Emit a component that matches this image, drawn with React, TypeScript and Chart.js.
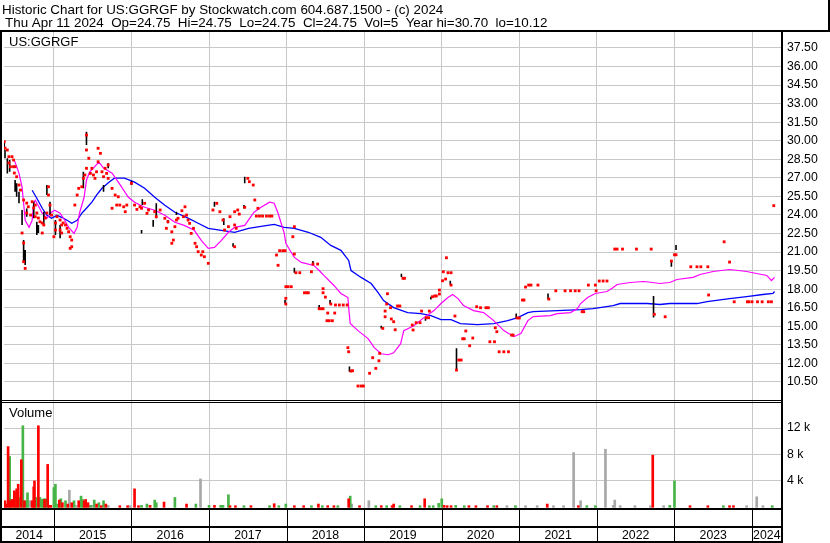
import React, { useEffect, useRef } from 'react';
import { Chart, registerables } from 'chart.js';
Chart.register(...registerables);

const FONT = '"Liberation Sans", Arial, sans-serif';

const headerLine1 = 'Historic Chart for US:GGRGF by Stockwatch.com 604.687.1500 - (c) 2024';
const headerLine2 = 'Thu Apr 11 2024  Op=24.75  Hi=24.75  Lo=24.75  Cl=24.75  Vol=5  Year hi=30.70  lo=10.12';
const symbolLabel = 'US:GGRGF';
const volumeLabel = 'Volume';

const X_MIN = 2014.357;
const X_MAX = 2024.386;
const yearBoundaries = [2015, 2016, 2017, 2018, 2019, 2020, 2021, 2022, 2023, 2024];
const yearLabels = ['2014', '2015', '2016', '2017', '2018', '2019', '2020', '2021', '2022', '2023', '2024'];
const yearLabelPos = [2014.68, 2015.5, 2016.5, 2017.5, 2018.5, 2019.5, 2020.5, 2021.5, 2022.5, 2023.5, 2024.19];

const priceTicks = [10.5, 12, 13.5, 15, 16.5, 18, 19.5, 21, 22.5, 24, 25.5, 27, 28.5, 30, 31.5, 33, 34.5, 36, 37.5];
const volumeTicks = [4000, 8000, 12000];

// long moving average (blue)
const blueYears = [2014.72, 2014.78, 2014.85, 2014.91, 2014.97, 2015.04, 2015.10, 2015.17, 2015.23, 2015.30, 2015.36, 2015.42, 2015.49, 2015.55, 2015.62, 2015.71, 2015.78, 2015.91, 2016.04, 2016.17, 2016.30, 2016.43, 2016.56, 2016.71, 2016.86, 2016.99, 2017.16, 2017.33, 2017.51, 2017.67, 2017.84, 2017.97, 2018.10, 2018.28, 2018.44, 2018.57, 2018.70, 2018.80, 2018.83, 2018.96, 2019.09, 2019.18, 2019.25, 2019.38, 2019.56, 2019.73, 2019.86, 2019.99, 2020.12, 2020.24, 2020.46, 2020.67, 2020.85, 2020.98, 2021.11, 2021.18, 2021.49, 2021.79, 2021.95, 2022.21, 2022.30, 2022.65, 2022.81, 2022.94, 2023.29, 2023.42, 2023.71, 2023.93, 2024.14, 2024.27, 2024.29];
const bluePrices = [26.0, 25.35, 24.54, 23.97, 23.73, 23.97, 23.81, 23.57, 23.33, 23.57, 24.14, 24.54, 25.03, 25.60, 26.16, 26.65, 26.97, 26.97, 26.65, 26.16, 25.43, 24.79, 24.22, 23.81, 23.33, 22.92, 22.76, 22.60, 22.92, 23.08, 23.24, 23.00, 22.92, 22.60, 22.19, 21.54, 21.14, 20.32, 19.51, 18.95, 18.46, 17.73, 17.08, 16.51, 16.11, 16.02, 15.86, 15.54, 15.54, 15.22, 15.13, 15.22, 15.46, 15.70, 16.11, 16.19, 16.27, 16.35, 16.43, 16.67, 16.84, 16.84, 16.76, 16.84, 16.84, 17.00, 17.24, 17.40, 17.57, 17.65, 17.81];

// short moving average (magenta)
const magentaYears = [2014.49, 2014.55, 2014.59, 2014.61, 2014.63, 2014.68, 2014.72, 2014.74, 2014.76, 2014.81, 2014.85, 2014.91, 2014.97, 2015.01, 2015.08, 2015.14, 2015.19, 2015.26, 2015.30, 2015.33, 2015.39, 2015.42, 2015.46, 2015.58, 2015.64, 2015.75, 2015.84, 2015.96, 2016.04, 2016.17, 2016.30, 2016.43, 2016.56, 2016.68, 2016.81, 2016.90, 2016.99, 2017.07, 2017.16, 2017.25, 2017.33, 2017.46, 2017.58, 2017.67, 2017.78, 2017.84, 2017.89, 2017.93, 2017.97, 2017.99, 2018.06, 2018.10, 2018.19, 2018.35, 2018.42, 2018.48, 2018.61, 2018.70, 2018.79, 2018.80, 2018.82, 2018.92, 2019.05, 2019.13, 2019.22, 2019.31, 2019.38, 2019.47, 2019.51, 2019.64, 2019.77, 2019.90, 2019.99, 2020.08, 2020.14, 2020.21, 2020.28, 2020.41, 2020.54, 2020.67, 2020.80, 2020.93, 2021.02, 2021.11, 2021.18, 2021.40, 2021.49, 2021.66, 2021.75, 2021.79, 2021.88, 2021.98, 2022.13, 2022.21, 2022.26, 2022.43, 2022.60, 2022.72, 2022.81, 2022.94, 2023.03, 2023.24, 2023.33, 2023.50, 2023.71, 2023.93, 2024.06, 2024.19, 2024.25, 2024.29];
const magentaPrices = [28.43, 27.38, 26.25, 24.95, 23.57, 23.00, 23.57, 24.95, 25.19, 24.62, 24.14, 23.73, 24.22, 24.38, 24.14, 23.57, 23.00, 22.51, 23.00, 24.14, 25.43, 26.81, 27.46, 28.27, 27.79, 27.38, 26.57, 25.43, 25.03, 24.62, 24.38, 23.97, 23.41, 23.16, 22.76, 21.95, 21.30, 21.38, 21.95, 22.60, 23.00, 23.16, 24.22, 24.62, 25.03, 24.95, 24.14, 23.33, 22.51, 21.70, 20.97, 20.57, 20.16, 19.92, 19.51, 19.11, 18.30, 17.65, 17.32, 16.51, 15.22, 14.65, 14.00, 13.27, 12.78, 12.70, 12.86, 13.59, 14.65, 15.05, 15.70, 16.27, 16.84, 17.32, 17.57, 17.24, 16.67, 16.27, 16.11, 15.46, 14.65, 14.16, 14.41, 15.46, 15.78, 15.86, 16.02, 16.11, 16.43, 16.84, 17.32, 17.65, 17.81, 18.14, 18.38, 18.54, 18.62, 18.54, 18.46, 18.54, 18.78, 18.95, 19.19, 19.43, 19.59, 19.43, 19.27, 19.11, 18.70, 18.95];

// daily closes (red marks)
const closeYears = [2014.36, 2014.37, 2014.40, 2014.42, 2014.46, 2014.48, 2014.42, 2014.44, 2014.48, 2014.50, 2014.49, 2014.52, 2014.55, 2014.57, 2014.61, 2014.65, 2014.67, 2014.65, 2014.70, 2014.72, 2014.74, 2014.76, 2014.78, 2014.76, 2014.80, 2014.82, 2014.85, 2014.87, 2014.85, 2014.59, 2014.61, 2014.61, 2014.63, 2014.89, 2014.93, 2014.93, 2014.95, 2014.91, 2014.97, 2015.02, 2015.04, 2015.08, 2015.10, 2015.12, 2015.15, 2015.17, 2015.19, 2015.21, 2015.23, 2015.23, 2015.21, 2015.02, 2015.00, 2015.08, 2015.10, 2015.27, 2015.30, 2015.32, 2015.36, 2015.38, 2015.40, 2015.42, 2015.45, 2015.42, 2015.42, 2015.47, 2015.49, 2015.51, 2015.53, 2015.55, 2015.57, 2015.57, 2015.60, 2015.62, 2015.64, 2015.66, 2015.68, 2015.70, 2015.70, 2015.75, 2015.79, 2015.83, 2015.81, 2015.85, 2015.90, 2015.94, 2015.92, 2015.75, 2016.00, 2016.04, 2016.07, 2016.11, 2016.13, 2016.17, 2016.22, 2016.20, 2016.30, 2016.32, 2016.37, 2016.43, 2016.47, 2016.45, 2016.52, 2016.56, 2016.58, 2016.60, 2016.67, 2016.65, 2016.69, 2016.71, 2016.73, 2016.75, 2016.77, 2016.80, 2016.82, 2016.84, 2016.86, 2016.90, 2016.92, 2016.94, 2016.99, 2016.54, 2016.52, 2017.05, 2017.10, 2017.14, 2017.18, 2017.20, 2017.25, 2017.27, 2017.33, 2017.35, 2017.37, 2017.39, 2017.46, 2017.50, 2017.52, 2017.57, 2017.59, 2017.61, 2017.65, 2017.63, 2017.33, 2017.33, 2017.69, 2017.74, 2017.78, 2017.81, 2018.10, 2018.08, 2017.91, 2017.95, 2017.98, 2017.87, 2018.10, 2017.89, 2018.12, 2018.17, 2018.32, 2018.34, 2018.40, 2017.99, 2018.02, 2018.06, 2017.99, 2017.99, 2018.23, 2018.26, 2018.28, 2018.47, 2018.47, 2018.50, 2018.42, 2018.45, 2018.47, 2018.57, 2018.63, 2018.68, 2018.73, 2018.78, 2018.53, 2018.62, 2018.52, 2018.55, 2018.59, 2018.79, 2018.80, 2018.83, 2018.85, 2018.92, 2018.96, 2018.99, 2019.07, 2019.15, 2019.19, 2019.11, 2019.20, 2019.24, 2019.27, 2019.27, 2019.30, 2019.29, 2019.34, 2019.35, 2019.38, 2019.40, 2019.43, 2019.46, 2019.50, 2019.52, 2019.62, 2019.63, 2019.67, 2019.72, 2019.74, 2019.80, 2019.83, 2019.84, 2019.88, 2019.91, 2019.93, 2019.97, 2019.97, 2020.01, 2020.02, 2020.05, 2020.06, 2020.08, 2020.12, 2020.12, 2020.17, 2020.19, 2020.22, 2020.25, 2020.27, 2020.29, 2020.31, 2020.36, 2020.40, 2020.45, 2020.50, 2020.57, 2020.60, 2020.62, 2020.68, 2020.69, 2020.71, 2020.74, 2020.80, 2020.86, 2020.90, 2020.92, 2020.97, 2021.00, 2021.04, 2021.06, 2021.08, 2021.12, 2021.15, 2021.24, 2021.38, 2021.47, 2021.59, 2021.66, 2021.72, 2021.77, 2021.81, 2021.83, 2021.89, 2021.98, 2021.99, 2022.03, 2022.08, 2022.13, 2022.23, 2022.26, 2022.33, 2022.51, 2022.70, 2022.74, 2022.88, 2022.96, 2023.00, 2023.02, 2023.21, 2023.29, 2023.34, 2023.43, 2023.44, 2023.64, 2023.71, 2023.77, 2023.94, 2023.96, 2024.00, 2024.07, 2024.13, 2024.21, 2024.25, 2024.28];
const closePrices = [29.92, 29.41, 29.25, 28.71, 28.71, 28.44, 28.20, 27.90, 27.90, 27.90, 27.39, 27.09, 26.42, 26.01, 25.21, 24.96, 24.66, 24.16, 23.99, 25.07, 24.56, 24.80, 24.16, 23.86, 23.75, 23.45, 23.35, 23.19, 22.54, 22.54, 21.73, 20.22, 19.68, 23.75, 26.28, 25.61, 24.80, 24.16, 23.99, 23.35, 23.86, 23.59, 23.19, 23.35, 23.19, 22.92, 22.64, 22.24, 21.97, 21.43, 21.30, 22.78, 22.24, 22.78, 22.54, 24.80, 25.61, 26.15, 26.28, 26.96, 27.23, 27.77, 28.58, 29.25, 30.46, 27.36, 27.77, 27.23, 26.96, 27.49, 28.30, 29.39, 28.98, 27.49, 27.09, 27.77, 27.36, 28.04, 26.96, 26.15, 25.61, 25.47, 24.80, 24.80, 24.66, 24.80, 24.26, 24.54, 26.56, 24.80, 24.45, 24.66, 24.54, 24.94, 24.40, 24.13, 24.26, 23.86, 24.40, 23.73, 23.45, 22.92, 22.64, 23.05, 23.59, 23.73, 23.86, 24.34, 24.66, 23.99, 23.59, 23.32, 22.51, 22.92, 21.71, 21.43, 21.03, 20.76, 21.03, 20.62, 20.09, 21.97, 21.71, 24.40, 24.94, 24.26, 23.59, 22.78, 23.05, 23.86, 21.43, 22.92, 24.40, 24.07, 24.62, 26.96, 26.69, 26.42, 25.21, 23.91, 23.91, 24.54, 23.19, 24.26, 23.91, 23.91, 23.91, 23.91, 23.05, 22.24, 21.11, 21.11, 21.11, 20.76, 20.84, 19.93, 19.33, 19.33, 19.41, 20.03, 20.03, 18.20, 18.20, 18.20, 17.26, 16.80, 17.71, 17.71, 17.71, 18.04, 17.71, 17.36, 16.42, 16.42, 16.42, 16.80, 16.72, 16.72, 16.72, 16.72, 16.07, 16.07, 15.45, 15.45, 15.45, 13.27, 12.94, 11.38, 11.41, 10.17, 10.17, 10.17, 11.20, 11.60, 12.21, 12.46, 12.81, 14.83, 15.77, 16.23, 17.63, 16.80, 16.50, 15.59, 15.37, 14.72, 16.64, 16.64, 18.88, 18.88, 15.10, 14.70, 15.29, 15.29, 16.23, 15.69, 15.69, 16.23, 17.39, 17.45, 17.45, 17.61, 17.93, 18.68, 19.41, 18.82, 20.54, 19.33, 19.33, 18.33, 15.83, 11.46, 12.27, 12.27, 13.99, 13.99, 14.62, 13.43, 14.05, 16.58, 16.50, 16.50, 16.50, 13.75, 13.75, 14.88, 14.56, 12.94, 12.94, 12.94, 14.29, 14.29, 15.67, 15.67, 17.12, 17.12, 18.17, 18.33, 18.33, 18.33, 17.20, 17.87, 17.87, 17.87, 17.87, 17.87, 16.18, 16.18, 18.33, 18.33, 17.87, 18.66, 18.66, 18.66, 21.24, 21.24, 21.24, 21.24, 21.24, 15.97, 15.77, 20.27, 20.78, 20.78, 19.81, 19.81, 19.81, 19.81, 17.53, 21.83, 20.19, 16.98, 16.98, 16.98, 16.98, 16.98, 16.98, 16.98, 16.98, 24.75];

// daily high-low ranges (black bars)
const rangeYears = [2014.36, 2014.37, 2014.40, 2014.43, 2014.50, 2014.52, 2014.55, 2014.59, 2014.61, 2014.63, 2014.65, 2014.74, 2014.78, 2014.80, 2014.87, 2014.91, 2014.95, 2015.02, 2015.08, 2015.38, 2015.42, 2015.70, 2015.64, 2016.00, 2016.14, 2016.28, 2016.32, 2016.13, 2016.47, 2016.58, 2017.07, 2017.19, 2017.46, 2017.45, 2017.31, 2018.10, 2017.98, 2018.34, 2018.42, 2018.56, 2018.81, 2019.22, 2019.48, 2019.86, 2020.11, 2019.79, 2020.19, 2020.96, 2021.37, 2022.73, 2022.96, 2023.02];
const rangeHighs = [29.95, 29.25, 28.58, 28.44, 26.82, 26.56, 25.88, 24.40, 21.97, 21.16, 24.53, 25.07, 23.45, 23.19, 24.26, 26.42, 25.07, 23.59, 23.19, 27.49, 30.73, 28.17, 26.42, 26.77, 25.26, 23.59, 24.94, 22.78, 23.59, 24.26, 25.07, 23.73, 27.09, 24.80, 21.71, 19.74, 17.12, 20.27, 16.72, 17.12, 11.74, 15.05, 19.25, 17.39, 18.68, 15.69, 13.22, 16.04, 17.66, 17.44, 20.36, 21.57];
const rangeLows = [29.28, 28.58, 27.36, 27.49, 25.88, 25.47, 24.94, 23.19, 20.22, 19.95, 23.86, 23.73, 22.38, 22.54, 23.19, 25.61, 23.99, 22.38, 22.11, 26.15, 29.65, 27.77, 25.88, 26.42, 24.80, 23.05, 23.73, 22.51, 23.32, 23.99, 24.66, 23.19, 26.56, 24.53, 21.43, 19.33, 16.85, 20.03, 16.37, 16.80, 11.33, 14.83, 18.98, 17.17, 18.35, 15.45, 11.46, 15.64, 17.18, 15.72, 19.81, 21.16];

// daily volume: d = down (red), u = up (green), n = unchanged (gray)
const volYears = [2014.37, 2014.38, 2014.41, 2014.43, 2014.44, 2014.46, 2014.49, 2014.50, 2014.52, 2014.54, 2014.55, 2014.58, 2014.60, 2014.62, 2014.64, 2014.66, 2014.69, 2014.72, 2014.74, 2014.75, 2014.77, 2014.80, 2014.82, 2014.85, 2014.87, 2014.88, 2014.90, 2014.92, 2014.94, 2014.96, 2015.00, 2015.02, 2015.05, 2015.07, 2015.09, 2015.11, 2015.15, 2015.18, 2015.20, 2015.23, 2015.26, 2015.29, 2015.32, 2015.35, 2015.37, 2015.39, 2015.41, 2015.44, 2015.47, 2015.49, 2015.52, 2015.55, 2015.58, 2015.61, 2015.64, 2015.67, 2015.70, 2015.85, 2015.95, 2015.98, 2016.04, 2016.09, 2016.13, 2016.20, 2016.24, 2016.30, 2016.32, 2016.42, 2016.56, 2016.71, 2016.83, 2016.89, 2017.00, 2017.07, 2017.15, 2017.18, 2017.25, 2017.27, 2017.34, 2017.45, 2017.54, 2017.78, 2017.84, 2017.90, 2017.99, 2018.10, 2018.22, 2018.32, 2018.41, 2018.46, 2018.53, 2018.61, 2018.66, 2018.80, 2018.82, 2018.84, 2018.94, 2019.06, 2019.15, 2019.22, 2019.29, 2019.36, 2019.38, 2019.46, 2019.61, 2019.72, 2019.78, 2019.84, 2019.89, 2019.96, 2020.00, 2020.03, 2020.07, 2020.12, 2020.18, 2020.29, 2020.35, 2020.44, 2020.59, 2020.67, 2020.71, 2020.84, 2020.95, 2021.08, 2021.23, 2021.36, 2021.44, 2021.57, 2021.70, 2021.76, 2021.79, 2021.87, 2021.98, 2022.11, 2022.21, 2022.23, 2022.30, 2022.49, 2022.69, 2022.72, 2022.86, 2022.94, 2023.00, 2023.20, 2023.43, 2023.63, 2023.71, 2023.76, 2023.93, 2024.06, 2024.14, 2024.26];
const volValues = [1000, 500, 9200, 7700, 1000, 1200, 2500, 2200, 2800, 3500, 1500, 7200, 12350, 1000, 1000, 2200, 1000, 1000, 3100, 4000, 1500, 12350, 1500, 1200, 1300, 1200, 1300, 6500, 300, 300, 3000, 3500, 500, 1100, 1300, 700, 1000, 500, 2600, 700, 1000, 300, 1000, 1700, 1200, 1000, 1200, 700, 300, 300, 1100, 500, 700, 250, 1000, 500, 300, 250, 250, 250, 2800, 250, 300, 500, 300, 1100, 700, 800, 1500, 500, 500, 4300, 300, 300, 300, 300, 1900, 250, 250, 250, 250, 250, 550, 250, 500, 250, 250, 250, 500, 250, 250, 250, 250, 1300, 1700, 500, 250, 1000, 250, 250, 250, 250, 500, 250, 250, 250, 1300, 250, 250, 600, 1300, 300, 250, 250, 300, 250, 250, 250, 250, 250, 250, 250, 250, 250, 250, 500, 250, 250, 8300, 250, 1000, 250, 250, 8800, 300, 1100, 250, 250, 250, 7900, 250, 300, 4000, 250, 250, 250, 250, 250, 250, 1600, 250, 250];
const volDirs = ['d', 'd', 'd', 'u', 'd', 'd', 'd', 'u', 'd', 'd', 'u', 'd', 'u', 'd', 'u', 'u', 'n', 'd', 'd', 'd', 'u', 'd', 'u', 'u', 'u', 'd', 'u', 'd', 'd', 'd', 'u', 'u', 'u', 'd', 'u', 'd', 'u', 'd', 'n', 'd', 'u', 'n', 'd', 'u', 'u', 'd', 'd', 'd', 'u', 'n', 'u', 'd', 'u', 'd', 'u', 'd', 'n', 'd', 'd', 'n', 'd', 'd', 'u', 'u', 'd', 'u', 'u', 'd', 'u', 'd', 'u', 'n', 'u', 'd', 'u', 'u', 'u', 'd', 'd', 'u', 'd', 'u', 'd', 'u', 'u', 'd', 'd', 'u', 'd', 'u', 'd', 'd', 'u', 'd', 'u', 'n', 'd', 'n', 'u', 'd', 'u', 'd', 'd', 'u', 'd', 'u', 'd', 'u', 'u', 'u', 'u', 'd', 'd', 'd', 'u', 'u', 'd', 'd', 'd', 'u', 'd', 'n', 'u', 'n', 'n', 'd', 'n', 'n', 'n', 'd', 'n', 'u', 'u', 'n', 'n', 'n', 'n', 'n', 'n', 'd', 'n', 'u', 'u', 'd', 'd', 'u', 'd', 'd', 'n', 'n', 'n', 'u'];

const framePlugin = {
  id: 'stockwatchFrame',
  beforeDraw(chart: any) {
    const ctx = chart.ctx;
    ctx.save();
    ctx.fillStyle = '#ffffff';
    ctx.fillRect(0, 0, chart.width, chart.height);
    ctx.restore();
  },
  afterDraw(chart: any) {
    const ctx = chart.ctx;
    const xs = chart.scales.x;
    const area = chart.chartArea;
    ctx.save();
    ctx.fillStyle = '#000';
    ctx.textBaseline = 'alphabetic';
    ctx.textAlign = 'left';
    ctx.font = '13.4px ' + FONT;
    ctx.fillText(headerLine1, 2, 14);
    ctx.fillText(headerLine2, 5, 27);
    // header frame
    ctx.fillRect(0, 30, 830, 2);
    ctx.fillRect(828, 0, 2, 31);
    // left and right borders of the plot
    ctx.fillRect(0, 31, 2, 512);
    ctx.fillRect(Math.round(area.right) - 1, 31, 2, 512);
    // separator between price and volume panels
    ctx.fillRect(0, 400, area.right, 1);
    ctx.fillRect(0, 402, area.right, 1);
    // bottom axis rows
    ctx.fillRect(0, 508, area.right, 2);
    ctx.fillRect(0, 526, area.right, 2);
    ctx.fillRect(0, 541, area.right, 2);
    for (const yr of yearBoundaries) {
      const px = Math.round(xs.getPixelForValue(yr));
      ctx.fillRect(px, 509, 1, 33);
    }
    ctx.font = '13px ' + FONT;
    ctx.fillText(symbolLabel, 9, 46);
    ctx.fillText(volumeLabel, 9, 417);
    ctx.restore();
  },
};

export default function App() {
  const ref = useRef<HTMLCanvasElement>(null);

  useEffect(() => {
    const closes = closeYears.map((x, i) => ({ x, y: closePrices[i] }));
    const ranges: any[] = [];
    rangeYears.forEach((x, i) => {
      ranges.push({ x, y: rangeHighs[i] }, { x, y: rangeLows[i] }, { x, y: null });
    });
    const blue = blueYears.map((x, i) => ({ x, y: bluePrices[i] }));
    const magenta = magentaYears.map((x, i) => ({ x, y: magentaPrices[i] }));
    const volOf = (dir: string) =>
      volYears.map((x, i) => ({ x, y: volValues[i], d: volDirs[i] })).filter((p) => p.d === dir).map((p) => ({ x: p.x, y: p.y }));

    const tickFont = { family: FONT, size: 12.3 };

    const chart = new Chart(ref.current as HTMLCanvasElement, {
      type: 'bar',
      data: {
        datasets: [
          {
            type: 'line',
            label: 'Close',
            data: closes,
            xAxisID: 'x',
            yAxisID: 'y',
            showLine: false,
            pointStyle: 'rect',
            pointRadius: 2.0,
            pointBorderWidth: 0,
            pointBackgroundColor: '#ff0000',
            borderColor: '#ff0000',
            backgroundColor: '#ff0000',
          },
          {
            type: 'line',
            label: 'Range',
            data: ranges,
            xAxisID: 'x',
            yAxisID: 'y',
            borderColor: '#000000',
            borderWidth: 1.6,
            pointRadius: 0,
            spanGaps: false,
          },
          {
            type: 'line',
            label: 'MA short',
            data: magenta,
            xAxisID: 'x',
            yAxisID: 'y',
            borderColor: '#ff00ff',
            borderWidth: 1.2,
            pointRadius: 0,
            tension: 0,
          },
          {
            type: 'line',
            label: 'MA long',
            data: blue,
            xAxisID: 'x',
            yAxisID: 'y',
            borderColor: '#0000ff',
            borderWidth: 1.3,
            pointRadius: 0,
            tension: 0,
          },
          {
            type: 'bar',
            label: 'Vol down',
            data: volOf('d'),
            xAxisID: 'x',
            yAxisID: 'yv',
            backgroundColor: '#ff0000',
            barThickness: 2,
            grouped: false,
            minBarLength: 1,
          },
          {
            type: 'bar',
            label: 'Vol up',
            data: volOf('u'),
            xAxisID: 'x',
            yAxisID: 'yv',
            backgroundColor: '#46b446',
            barThickness: 2,
            grouped: false,
            minBarLength: 1,
          },
          {
            type: 'bar',
            label: 'Vol flat',
            data: volOf('n'),
            xAxisID: 'x',
            yAxisID: 'yv',
            backgroundColor: '#a8a8a8',
            barThickness: 2,
            grouped: false,
            minBarLength: 1,
          },
        ] as any,
      },
      options: {
        animation: false,
        responsive: false,
        devicePixelRatio: 1,
        events: [],
        layout: { padding: { top: 32, left: 2, right: 0, bottom: 0 } },
        plugins: {
          legend: { display: false },
          tooltip: { enabled: false },
          title: { display: false },
        },
        scales: {
          x: {
            type: 'linear',
            position: 'bottom',
            weight: 0,
            min: X_MIN,
            max: X_MAX,
            offset: false,
            afterBuildTicks: (s: any) => {
              s.ticks = yearBoundaries.map((v) => ({ value: v }));
            },
            afterFit: (s: any) => {
              s.height = 17;
            },
            ticks: { display: false },
            grid: { color: '#c8c8c8', lineWidth: 1, drawTicks: false, offset: false },
            border: { display: false },
          },
          xLabels: {
            type: 'linear',
            position: 'bottom',
            weight: 1,
            min: X_MIN,
            max: X_MAX,
            offset: false,
            afterBuildTicks: (s: any) => {
              s.ticks = yearLabelPos.map((v) => ({ value: v }));
            },
            afterFit: (s: any) => {
              s.height = 17;
            },
            ticks: {
              autoSkip: false,
              maxRotation: 0,
              minRotation: 0,
              padding: 2,
              color: '#000',
              font: { family: FONT, size: 12.3 },
              callback: (_v: any, i: number) => yearLabels[i],
            },
            grid: { display: false, drawTicks: false },
            border: { display: false },
          },
          y: {
            type: 'linear',
            position: 'right',
            stack: 'panels',
            stackWeight: 369,
            min: 8.96,
            max: 38.79,
            afterBuildTicks: (s: any) => {
              s.ticks = priceTicks.map((v) => ({ value: v }));
            },
            afterFit: (s: any) => {
              s.width = 48;
            },
            ticks: {
              autoSkip: false,
              padding: 5,
              color: '#000',
              font: tickFont,
              callback: (v: any) => Number(v).toFixed(2),
            },
            grid: { color: '#c8c8c8', lineWidth: 1, drawTicks: false },
            border: { display: false },
          },
          yv: {
            type: 'linear',
            position: 'right',
            stack: 'panels',
            stackWeight: 108,
            min: -250,
            max: 16100,
            afterBuildTicks: (s: any) => {
              s.ticks = volumeTicks.map((v) => ({ value: v }));
            },
            afterFit: (s: any) => {
              s.width = 48;
            },
            ticks: {
              autoSkip: false,
              padding: 5,
              color: '#000',
              font: tickFont,
              callback: (v: any) => Number(v) / 1000 + ' k',
            },
            grid: { color: '#c8c8c8', lineWidth: 1, drawTicks: false },
            border: { display: false },
          },
        },
      } as any,
      plugins: [framePlugin],
    });
    return () => chart.destroy();
  }, []);

  return (
    <div style={{ position: 'fixed', left: 0, top: 0, width: 830, height: 543, background: '#fff' }}>
      <canvas ref={ref} width={830} height={543} style={{ display: 'block', width: 830, height: 543 }} />
    </div>
  );
}
